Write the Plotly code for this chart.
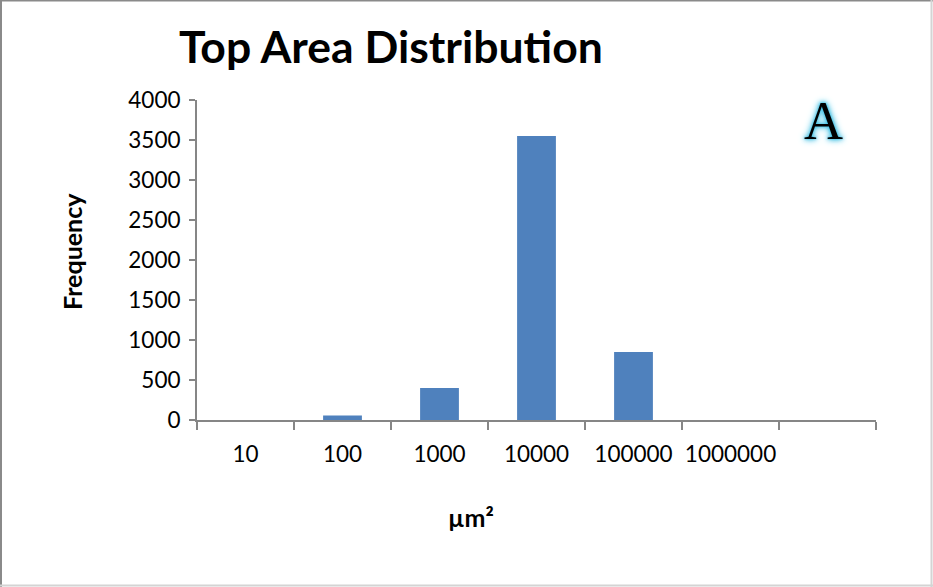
import plotly.graph_objects as go

# Histogram bins (upper bound of each area class, µm²) and their counts
bins = ["10", "100", "1000", "10000", "100000", "1000000", " "]
frequency = [0, 55, 400, 3550, 850, 0, 0]
y_ticks = [0, 500, 1000, 1500, 2000, 2500, 3000, 3500, 4000]

W, H = 933, 587
ML, MR, MT, MB = 197, 57, 100, 167
PW, PH = W - ML - MR, H - MT - MB

def px_x(p):
    return (p - ML) / PW

def px_y(p):
    return (H - MB - p) / PH

fig = go.Figure(
    go.Bar(
        x=bins,
        y=frequency,
        marker=dict(color="#4f81bd", line=dict(width=0)),
        width=0.4,
        hoverinfo="x+y",
    )
)

axis_color = "#868686"
font_main = "Lato, 'Open Sans', sans-serif"

fig.update_layout(
    width=W,
    height=H,
    margin=dict(l=ML, r=MR, t=MT, b=MB),
    paper_bgcolor="white",
    plot_bgcolor="white",
    showlegend=False,
    font=dict(family=font_main, color="black", size=20),
    xaxis=dict(
        type="category",
        categoryorder="array",
        categoryarray=bins,
        tickson="boundaries",
        ticks="outside",
        ticklen=8,
        tickcolor=axis_color,
        tickwidth=2,
        showline=True,
        linecolor=axis_color,
        linewidth=2,
        showgrid=False,
        zeroline=False,
        tickangle=0,
        tickfont=dict(size=22.5),
        ticklabelstandoff=13,
        fixedrange=True,
    ),
    yaxis=dict(
        range=[0, 4000],
        tickvals=y_ticks,
        ticks="outside",
        ticklen=6,
        tickcolor=axis_color,
        tickwidth=2,
        showline=True,
        linecolor=axis_color,
        linewidth=2,
        showgrid=False,
        zeroline=False,
        tickfont=dict(size=22.5),
        ticklabelstandoff=4,
        fixedrange=True,
    ),
    annotations=[
        dict(
            text="<b>Top Area Distribution</b>",
            xref="paper", yref="paper",
            x=px_x(391), y=px_y(45),
            xanchor="center", yanchor="middle",
            showarrow=False,
            font=dict(size=44.5, family=font_main),
        ),
        dict(
            text="<b>Frequency</b>",
            xref="paper", yref="paper",
            x=px_x(72), y=px_y(251),
            xanchor="center", yanchor="middle",
            textangle=-90,
            showarrow=False,
            font=dict(size=25, family=font_main),
        ),
        dict(
            text="<b>µm²</b>",
            xref="paper", yref="paper",
            x=px_x(471), y=px_y(517),
            xanchor="center", yanchor="middle",
            showarrow=False,
            font=dict(size=25, family=font_main),
        ),
        dict(
            text="A",
            xref="paper", yref="paper",
            x=px_x(823), y=px_y(121),
            xanchor="center", yanchor="middle",
            showarrow=False,
            font=dict(
                size=54,
                family="'Liberation Serif', 'DejaVu Serif', serif",
                color="black",
                shadow="0px 0px 2px #3dbde3, 0px 0px 4px #45c0e4, 0px 0px 6px #52c6e6, 0px 0px 9px #8fdcf0",
            ),
        ),
    ],
    shapes=[
        # outer frame: darker top/left, lighter bottom/right
        dict(type="line", xref="paper", yref="paper",
             x0=px_x(0), x1=px_x(W), y0=px_y(0.5), y1=px_y(0.5),
             line=dict(color="#8a8a8a", width=2)),
        dict(type="line", xref="paper", yref="paper",
             x0=px_x(1), x1=px_x(1), y0=px_y(0), y1=px_y(H),
             line=dict(color="#8a8a8a", width=2)),
        dict(type="line", xref="paper", yref="paper",
             x0=px_x(0), x1=px_x(W), y0=px_y(585.5), y1=px_y(585.5),
             line=dict(color="#d4d4d4", width=2)),
        dict(type="line", xref="paper", yref="paper",
             x0=px_x(931.5), x1=px_x(931.5), y0=px_y(0), y1=px_y(H),
             line=dict(color="#d4d4d4", width=2)),
    ],
)

fig.write_html("out.html")
